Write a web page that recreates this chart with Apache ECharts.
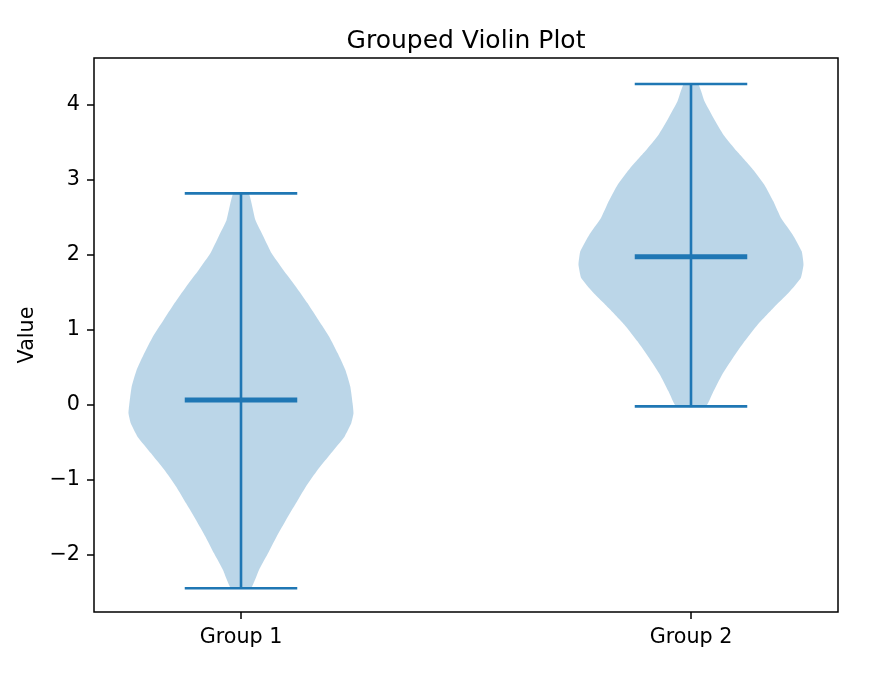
<!DOCTYPE html>
<html>
<head>
<meta charset="utf-8">
<script src="https://cdn.jsdelivr.net/npm/echarts@6/dist/echarts.min.js"></script>
<style>html,body{margin:0;padding:0;background:#fff;}#chart{width:876px;height:673px;}</style>
</head>
<body>
<div id="chart"></div>
<script>
const categories = ['Group 1', 'Group 2'];
const positions = [1, 2];
const yTicks = [-2, -1, 0, 1, 2, 3, 4];

// violin density profile: y values and half-widths (in x-axis units)
const group1Y = [2.822, 2.467, 2.244, 2.022, 1.8, 1.578, 1.356, 1.133, 0.911, 0.689, 0.467, 0.244, 0.022, -0.111, -0.244, -0.422, -0.644, -0.867, -1.089, -1.311, -1.533, -1.756, -1.978, -2.2, -2.444];
const group1W = [0.017, 0.032, 0.05, 0.068, 0.094, 0.122, 0.148, 0.172, 0.196, 0.215, 0.232, 0.243, 0.248, 0.25, 0.245, 0.23, 0.2, 0.17, 0.144, 0.122, 0.1, 0.079, 0.06, 0.04, 0.022];
const group2Y = [4.28, 4.049, 3.827, 3.604, 3.382, 3.16, 2.938, 2.716, 2.493, 2.271, 2.049, 1.871, 1.693, 1.516, 1.293, 1.071, 0.849, 0.627, 0.404, 0.182, -0.018];
const group2W = [0.016, 0.03, 0.05, 0.072, 0.102, 0.135, 0.163, 0.183, 0.2, 0.226, 0.246, 0.25, 0.244, 0.22, 0.183, 0.148, 0.119, 0.093, 0.069, 0.05, 0.033];

const mins = [-2.444, -0.018];
const maxs = [2.822, 4.28];
const medians = [0.067, 1.978];
const capHalf = 0.125;

const profilesY = [group1Y, group2Y];
const profilesW = [group1W, group2W];

const blue = '#1f77b4';
const fill = 'rgba(31,119,180,0.3)';
const font = 'DejaVu Sans';

const chart = echarts.init(document.getElementById('chart'), null, {renderer: 'canvas'});

function violinRender(params, api) {
  const i = params.dataIndex;
  const pos = positions[i];
  const ys = profilesY[i], ws = profilesW[i];
  const pts = [];
  for (let k = 0; k < ys.length; k++) pts.push(api.coord([pos + ws[k], ys[k]]));
  for (let k = ys.length - 1; k >= 0; k--) pts.push(api.coord([pos - ws[k], ys[k]]));
  return {
    type: 'polygon',
    shape: {points: pts, smooth: 0.12},
    style: {fill: fill, stroke: null}
  };
}

function linesRender(params, api) {
  const i = params.dataIndex;
  const pos = positions[i];
  const line = (x1, y1, x2, y2, w) => {
    const a = api.coord([x1, y1]), b = api.coord([x2, y2]);
    return {type: 'line', shape: {x1: a[0], y1: a[1], x2: b[0], y2: b[1]}, style: {stroke: blue, lineWidth: w}};
  };
  return {
    type: 'group',
    children: [
      line(pos, mins[i], pos, maxs[i], 2.6),
      line(pos - capHalf, maxs[i], pos + capHalf, maxs[i], 2.6),
      line(pos - capHalf, mins[i], pos + capHalf, mins[i], 2.6),
      line(pos - capHalf, medians[i], pos + capHalf, medians[i], 5)
    ]
  };
}

const option = {
  animation: false,
  backgroundColor: '#fff',
  title: {
    text: 'Grouped Violin Plot',
    left: 461,
    textAlign: 'center',
    top: 24,
    textStyle: {fontFamily: font, fontSize: 25, fontWeight: 'normal', color: '#000'}
  },
  grid: {left: 94, right: 38, top: 58, bottom: 61, show: true, borderColor: '#000', borderWidth: 1.5, backgroundColor: 'transparent'},
  xAxis: {
    type: 'value',
    min: 0.67333,
    max: 2.32667,
    splitLine: {show: false},
    axisLine: {show: false, onZero: false},
    axisTick: {show: true, length: 7, lineStyle: {color: '#000', width: 1.5}, customValues: positions},
    axisLabel: {
      customValues: positions,
      margin: 15,
      fontFamily: font, fontSize: 20.7, color: '#000',
      formatter: v => categories[positions.indexOf(v)] || ''
    }
  },
  yAxis: {
    type: 'value',
    min: -2.76,
    max: 4.6267,
    name: 'Value',
    nameLocation: 'middle',
    nameGap: 56,
    nameTextStyle: {fontFamily: font, fontSize: 20.7, color: '#000'},
    splitLine: {show: false},
    axisLine: {show: false, onZero: false},
    axisTick: {show: true, length: 7, lineStyle: {color: '#000', width: 1.5}, customValues: yTicks},
    axisLabel: {
      customValues: yTicks,
      margin: 14,
      fontFamily: font, fontSize: 20.7, color: '#000',
      formatter: v => (v < 0 ? '\u2212' + Math.abs(v) : String(v))
    }
  },
  series: [
    {type: 'custom', renderItem: violinRender, data: positions.map((p, i) => [p, medians[i]]), clip: true, z: 1},
    {type: 'custom', renderItem: linesRender, data: positions.map((p, i) => [p, medians[i]]), clip: true, z: 2}
  ]
};
chart.setOption(option);
</script>
</body>
</html>
